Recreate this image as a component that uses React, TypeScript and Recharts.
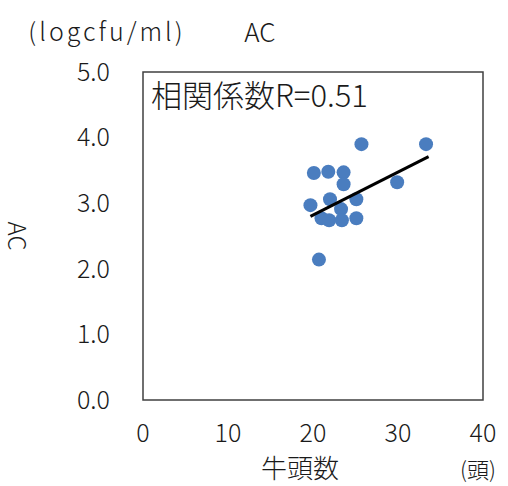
import {
  ScatterChart,
  Scatter,
  XAxis,
  YAxis,
  ReferenceArea,
} from "recharts";

// 牛頭数 vs AC (logcfu/ml)
const headCount = [25.7, 33.3, 20.1, 21.8, 23.6, 23.6, 29.9, 19.7, 22.0, 25.1, 23.3, 21.0, 21.9, 23.4, 25.1, 20.7];
const acValue = [3.9, 3.9, 3.46, 3.48, 3.47, 3.29, 3.32, 2.97, 3.06, 3.06, 2.91, 2.77, 2.74, 2.74, 2.77, 2.14];

// approximate regression line end points
const trendX = [19.7, 33.6];
const trendY = [2.8, 3.71];

const xTicks = [0, 10, 20, 30, 40];
const yTicks = [0, 1, 2, 3, 4, 5];

const FONT = "'Noto Sans CJK JP', 'Noto Sans', sans-serif";
const TEXT = "#1a1a1a";
const DOT = "#4a7dbf";

const points = headCount.map((x, i) => ({ x, y: acValue[i] }));
const trend = trendX.map((x, i) => ({ x, y: trendY[i] }));

const tickStyle = { fontSize: 25, fill: TEXT, fontFamily: FONT, fontWeight: 300 };

function Txt({ x, y, size, children, anchor = "middle", style = {} }: any) {
  return (
    <div
      style={{
        position: "absolute",
        left: x,
        top: y,
        fontSize: size,
        fontFamily: FONT,
        fontWeight: 300,
        color: TEXT,
        lineHeight: 1,
        whiteSpace: "nowrap",
        transform: anchor === "middle" ? "translate(-50%, -50%)" : "translate(0, -50%)",
        ...style,
      }}
    >
      {children}
    </div>
  );
}

const Dot = (props: any) => <circle cx={props.cx} cy={props.cy} r={7} fill={DOT} />;

export default function App() {
  return (
    <div style={{ position: "absolute", left: 0, top: 0, width: 508, height: 486, background: "#fff", overflow: "hidden" }}>
      <ScatterChart width={508} height={486} margin={{ top: 72, right: 25, bottom: 0, left: 0 }}>
        <XAxis
          type="number"
          dataKey="x"
          domain={[0, 40]}
          ticks={xTicks}
          axisLine={false}
          tickLine={false}
          tickSize={0}
          tickMargin={24}
          height={86}
          tick={tickStyle}
        />
        <YAxis
          type="number"
          dataKey="y"
          domain={[0, 5]}
          ticks={yTicks}
          axisLine={false}
          tickLine={false}
          tickSize={0}
          tickMargin={33}
          width={143}
          tick={tickStyle}
          tickFormatter={(v: number) => v.toFixed(1)}
        />
        <ReferenceArea
          x1={0}
          x2={40}
          y1={0}
          y2={5}
          fill="none"
          stroke="#404040"
          strokeWidth={1.5}
          ifOverflow="visible"
        />
        <Scatter data={points} shape={Dot} isAnimationActive={false} />
        <Scatter
          data={trend}
          line={{ stroke: "#000", strokeWidth: 3 }}
          lineType="joint"
          shape={() => <g />}
          isAnimationActive={false}
        />
      </ScatterChart>
      <Txt x={107} y={30} size={25} style={{ letterSpacing: 3 }}>(logcfu/ml)</Txt>
      <Txt x={260} y={31} size={26}>AC</Txt>
      <Txt x={151} y={93} size={31} anchor="start">相関係数R=0.51</Txt>
      <Txt x={18} y={236} size={24} style={{ transform: "translate(-50%, -50%) rotate(90deg)" }}>AC</Txt>
      <Txt x={300} y={467} size={26}>牛頭数</Txt>
      <Txt x={478} y={468} size={22}>(頭)</Txt>
    </div>
  );
}
